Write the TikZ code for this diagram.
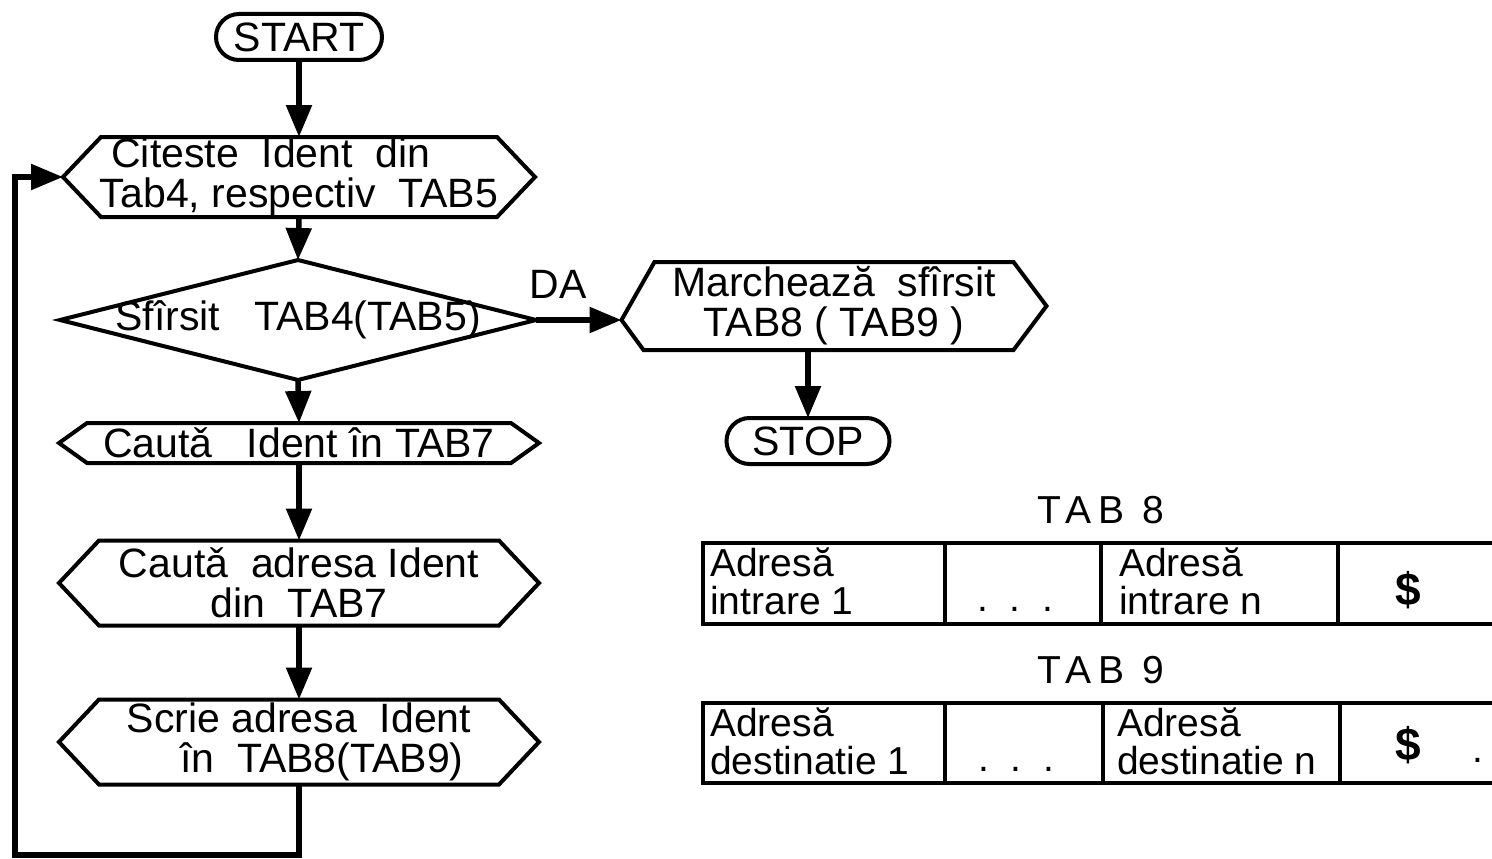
\documentclass[tikz,border=0pt]{standalone}
\usepackage{fontspec}
\setmainfont{Liberation Sans}
\usetikzlibrary{arrows.meta}
\begin{document}
\begin{tikzpicture}[x=1pt,y=-1pt,
  txt/.style={font=\fontsize{41}{40}\selectfont},
  box/.style={txt, rectangle, inner sep=0pt, outer sep=0pt, align=center},
  term/.style={box, draw, line width=4pt, rounded corners=23pt, minimum height=46pt},
  outline/.style={line width=4pt, line join=miter},
  flow/.style={line width=5.5pt, -{Triangle[width=25pt,length=32pt]}},
  cell/.style={draw, line width=4pt, rectangle, inner sep=0pt, outer sep=0pt, anchor=north west},
  celltxt/.style={font=\fontsize{39}{38}\selectfont, align=left, inner sep=0pt, anchor=north west},
  tablabel/.style={font=\fontsize{39}{39}\selectfont\addfontfeatures{LetterSpace=18}, inner sep=0pt},
  dollar/.style={font=\fontsize{46}{46}\selectfont\bfseries, inner sep=0pt},
]
\useasboundingbox (0,0) rectangle (1492,859);

% ---- flowchart nodes ----
\node[term, minimum width=166pt] (start) at (299,37) {START};
\node[box, align=left, minimum width=472pt, minimum height=80pt] (read) at (299,177)
  {~Citeste~~Ident~~din\\Tab4, respectiv~~TAB5};
\node[box, minimum width=476pt, minimum height=120pt] (test) at (298,320)
  {Sfîrsit~~~TAB4(TAB5)};
\node[box, minimum width=480pt, minimum height=40pt] (find) at (299,443)
  {Cautǎ~~~Ident în TAB7};
\node[box, minimum width=480pt, minimum height=85pt] (addr) at (299,583)
  {Cautǎ~~adresa Ident\\din~~TAB7};
\node[box, minimum width=480pt, minimum height=85pt] (write) at (299,742)
  {Scrie adresa~~Ident\\~~~~în~~TAB8(TAB9)};
\node[box, minimum width=425pt, minimum height=88pt] (mark) at (834,306)
  {Marchează~~sfîrsit\\TAB8 ( TAB9 )};
\node[term, minimum width=163pt] (stop) at (808,441) {STOP};
\node[box] (da) at (558,284) {DA};

% ---- outlines of the process boxes ----
\foreach \n/\d in {read/38, find/28, addr/40, write/40} {
  \draw[outline] (\n.west) -- ([xshift=\d pt]\n.north west) -- ([xshift=-\d pt]\n.north east)
    -- (\n.east) -- ([xshift=-\d pt]\n.south east) -- ([xshift=\d pt]\n.south west) -- cycle;
}
\draw[outline] (test.west) -- (test.north) -- (test.east) -- (test.south) -- cycle;
\coordinate (markin) at (mark.west |- test.east);
\draw[outline] (markin) -- ([xshift=33pt]mark.north west) -- ([xshift=-33pt]mark.north east)
  -- (mark.east) -- ([xshift=-33pt]mark.south east) -- ([xshift=22pt]mark.south west) -- cycle;

% ---- connectors ----
\draw[flow] (start) -- (read.north);
\draw[flow] (read.south) -- (test.north);
\draw[flow] (test.east) -- (markin);
\draw[flow] (test.south) -- (find.north);
\draw[flow] (find.south) -- (addr.north);
\draw[flow] (addr.south) -- (write.north);
\draw[flow] (stop.north |- mark.south) -- (stop.north);
\coordinate (loopbot) at (15,855);
\draw[flow] (write.south) |- (loopbot) |- (read.west);

% ---- TAB 8 ----
\node[tablabel] (lab8) at (1101,510) {TAB~8};
\node[cell, minimum width=242pt, minimum height=81pt] (a1) at (703,543) {};
\node[cell, minimum width=156pt, minimum height=81pt] (a2) at (a1.north east) {};
\node[cell, minimum width=237pt, minimum height=81pt] (a3) at (a2.north east) {};
\node[cell, draw=none, minimum width=170pt, minimum height=81pt] (a4) at (a3.north east) {};
\draw[outline] (a4.north west) -- (a4.north east) (a4.south west) -- (a4.south east);
\node[celltxt] (a1t) at ([xshift=7pt,yshift=-5pt]a1.north west) {Adresă\\intrare 1};
\node[celltxt, anchor=base] (a2t) at (1015,611) {.~~.~~.};
\node[celltxt] (a3t) at ([xshift=18pt,yshift=-5pt]a3.north west) {Adresă\\intrare n};
\node[dollar] (a4t) at (1408,590) {\$};

% ---- TAB 9 ----
\node[tablabel] (lab9) at (1101,670) {TAB~9};
\node[cell, minimum width=242pt, minimum height=80pt] (b1) at (703,703) {};
\node[cell, minimum width=158pt, minimum height=80pt] (b2) at (b1.north east) {};
\node[cell, minimum width=237pt, minimum height=80pt] (b3) at (b2.north east) {};
\node[cell, draw=none, minimum width=170pt, minimum height=80pt] (b4) at (b3.north east) {};
\draw[outline] (b4.north west) -- (b4.north east) (b4.south west) -- (b4.south east);
\node[celltxt] (b1t) at ([xshift=7pt,yshift=-5pt]b1.north west) {Adresă\\destinatie 1};
\node[celltxt, anchor=base] (b2t) at (1016,771) {.~~.~~.};
\node[celltxt] (b3t) at ([xshift=14pt,yshift=-5pt]b3.north west) {Adresă\\destinatie n};
\node[dollar] (b4t) at (1408,745) {\$};
\node[celltxt, anchor=base] (b4d) at (1478,762) {.};
\end{tikzpicture}
\end{document}
